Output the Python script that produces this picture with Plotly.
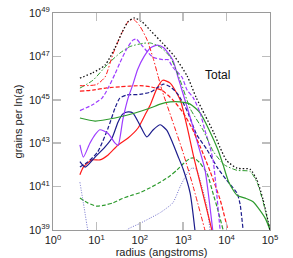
import plotly.graph_objects as go

# log10(radius / angstrom) and log10(grains per ln a)
total_x = [0.62, 0.92, 1.2, 1.43, 1.59, 1.73, 1.87, 2.05, 2.24, 2.53, 2.8, 3.09, 3.3, 3.5, 3.7, 3.85, 4.0, 4.24, 4.54, 4.7, 4.84, 5.0]
total_y = [46.0, 46.25, 46.6, 47.4, 48.1, 48.6, 48.77, 48.6, 48.2, 47.6, 47.0, 46.1, 45.1, 44.3, 43.5, 42.8, 42.2, 41.85, 41.8, 41.3, 40.4, 39.0]

red_dd_x = [0.62, 1.0, 1.2, 1.38, 1.59, 1.75, 1.86, 2.0, 2.16, 2.31, 2.42, 2.51, 2.74, 3.0, 3.23, 3.5]
red_dd_y = [45.65, 45.7, 46.05, 47.1, 48.1, 48.65, 48.7, 48.4, 47.8, 46.9, 46.1, 45.45, 44.1, 42.55, 41.0, 39.0]

red_dash_x = [0.62, 0.92, 1.24, 1.54, 2.0, 2.24, 2.5, 2.76, 3.0, 3.2, 3.4, 3.62, 3.85, 4.03]
red_dash_y = [45.4, 45.45, 45.55, 45.6, 45.65, 45.6, 45.45, 45.0, 44.4, 43.7, 42.8, 41.7, 40.4, 39.0]

red_solid_x = [0.62, 0.7, 0.9, 1.08, 1.27, 1.5, 1.73, 1.96, 2.12, 2.24, 2.4, 2.53, 2.7, 2.93, 3.09, 3.25, 3.45, 3.66]
red_solid_y = [41.55, 41.9, 42.23, 42.23, 42.46, 42.92, 43.24, 43.7, 44.3, 44.76, 45.55, 45.9, 45.77, 45.0, 43.75, 42.3, 40.7, 39.0]

green_dd_x = [0.62, 0.92, 1.24, 1.54, 1.77, 2.07, 2.24, 2.47, 2.7, 2.93, 3.16, 3.46, 3.7, 3.95, 4.24, 4.54, 4.7, 4.84, 5.0]
green_dd_y = [45.54, 45.9, 46.6, 47.15, 47.45, 47.6, 47.62, 47.43, 46.97, 45.9, 44.6, 43.6, 42.6, 42.0, 41.75, 41.7, 41.2, 40.3, 39.0]

green_solid_x = [0.62, 0.97, 1.43, 1.89, 2.24, 2.47, 2.7, 2.93, 3.16, 3.39, 3.6, 3.8, 3.92, 4.05, 4.24, 4.45, 4.61, 4.77, 4.9, 5.0]
green_solid_y = [44.16, 44.02, 44.16, 44.39, 44.62, 44.8, 44.9, 44.9, 44.8, 44.4, 43.6, 42.7, 42.0, 41.2, 40.6, 40.45, 40.3, 39.9, 39.5, 39.0]

green_dash_x = [0.62, 0.8, 1.0, 1.2, 1.38, 1.6, 1.84, 2.0, 2.24, 2.47, 2.7, 2.86, 3.0, 3.16, 3.25, 3.38, 3.55, 3.7, 3.78, 3.92]
green_dash_y = [40.47, 40.25, 40.1, 40.15, 40.25, 40.45, 40.62, 40.72, 40.95, 41.2, 41.5, 41.77, 42.05, 42.3, 42.32, 42.1, 41.6, 40.6, 40.06, 39.0]

purple_dash_x = [0.62, 0.9, 1.13, 1.27, 1.43, 1.54, 1.7, 1.84, 1.92, 2.05, 2.3, 2.53, 2.65, 2.76, 2.97, 3.09, 3.23, 3.39, 3.5, 3.62, 3.69, 3.85]
purple_dash_y = [44.5, 44.76, 45.08, 45.54, 46.2, 46.7, 47.35, 47.75, 47.8, 47.5, 46.97, 46.85, 46.85, 46.5, 46.05, 45.45, 45.1, 44.4, 43.6, 42.8, 42.2, 39.0]

purple_solid_x = [0.62, 0.7, 0.85, 0.97, 1.08, 1.27, 1.43, 1.5, 1.61, 1.73, 1.84, 1.95, 2.1, 2.25, 2.4, 2.55, 2.76, 2.88, 2.97, 3.16, 3.39, 3.5, 3.68]
purple_solid_y = [42.92, 42.36, 43.0, 43.4, 43.62, 43.45, 43.0, 42.9, 44.1, 45.08, 45.7, 46.4, 47.0, 47.4, 47.52, 47.4, 46.83, 46.05, 45.45, 44.2, 42.6, 41.8, 39.0]

blue_solid_x = [0.62, 0.74, 0.97, 1.2, 1.36, 1.5, 1.61, 1.73, 1.84, 2.0, 2.16, 2.3, 2.47, 2.62, 2.76, 2.9, 3.0, 3.16, 3.27]
blue_solid_y = [42.15, 41.9, 42.36, 42.83, 43.24, 43.98, 44.35, 44.44, 44.39, 43.84, 43.29, 43.6, 43.85, 43.6, 43.0, 42.3, 41.8, 40.7, 39.0]

blue_dash_x = [0.62, 0.8, 1.03, 1.27, 1.43, 1.54, 1.7, 2.0, 2.24, 2.4, 2.55, 2.7, 2.86, 3.0, 3.11, 3.31, 3.55, 3.78, 4.0, 4.24, 4.31, 4.38]
blue_dash_y = [41.9, 42.13, 42.6, 43.7, 44.62, 45.08, 45.22, 45.25, 45.35, 45.55, 45.72, 45.6, 45.3, 44.85, 44.4, 43.4, 42.7, 41.9, 41.3, 40.7, 40.2, 39.0]

blue_dot_x = [0.62, 0.72, 0.82, 1.0, 1.5, 1.7, 2.0, 2.24, 2.47, 2.76, 2.93, 3.09, 3.2, 3.3, 3.43, 3.55, 3.62, 3.7]
blue_dot_y = [41.2, 40.0, 38.8, 37.5, 38.3, 39.0, 39.3, 39.55, 39.8, 40.25, 41.0, 41.6, 41.85, 41.8, 41.0, 40.06, 39.0, 38.4]

x_tick_exp = [0, 1, 2, 3, 4, 5]
y_tick_exp = [39, 41, 43, 45, 47, 49]

RED = "#ff1a1a"
GREEN = "#2e9b2e"
PURPLE = "#9d3cff"
NAVY = "#1c1c8c"
LIGHTBLUE = "#7070cc"
BLACK = "#111111"

DASH = "4px,2px"
DOT = "1.5px,2px"
DASHDOT = "5px,2px,1.5px,2px"

series = [
    (green_dash_x, green_dash_y, GREEN, DASH, 1.2),
    (blue_dot_x, blue_dot_y, LIGHTBLUE, "1px,1.5px", 1.0),
    (red_solid_x, red_solid_y, RED, "solid", 1.2),
    (blue_solid_x, blue_solid_y, NAVY, "solid", 1.2),
    (blue_dash_x, blue_dash_y, NAVY, DASH, 1.2),
    (purple_solid_x, purple_solid_y, PURPLE, "solid", 1.2),
    (green_solid_x, green_solid_y, GREEN, "solid", 1.2),
    (red_dash_x, red_dash_y, RED, DASH, 1.2),
    (purple_dash_x, purple_dash_y, PURPLE, DASH, 1.2),
    (green_dd_x, green_dd_y, GREEN, DASHDOT, 1.0),
    (red_dd_x, red_dd_y, RED, DASHDOT, 1.0),
    (total_x, total_y, BLACK, DOT, 1.3),
]

fig = go.Figure()
for xs, ys, col, dash, w in series:
    fig.add_trace(go.Scatter(
        x=[10.0 ** v for v in xs], y=[10.0 ** v for v in ys], mode="lines",
        line=dict(color=col, dash=dash, width=w, shape="spline", smoothing=0.6),
        showlegend=False, hoverinfo="skip"))

fig.add_annotation(x=3.8, y=46.14, xref="x", yref="y", text="Total", showarrow=False,
                   font=dict(size=12, color="#111"))

axis_common = dict(type="log", showline=True, linecolor="#9a9a9a", linewidth=1, mirror="ticks",
                   ticks="inside", ticklen=8, tickwidth=1.5, tickcolor="#bdbdbd",
                   showgrid=False, zeroline=False, automargin=False,
                   tickfont=dict(size=11, color="#222"))

fig.update_layout(
    width=293, height=258,
    margin=dict(l=53, r=23, t=13, b=28),
    paper_bgcolor="white", plot_bgcolor="white",
    font=dict(family="Liberation Sans, Arial, sans-serif", color="#222"),
    xaxis=dict(range=[0, 5], tickmode="array",
               tickvals=[10.0 ** e for e in x_tick_exp],
               ticktext=["10<sup>%d</sup>" % e for e in x_tick_exp],
               title=dict(text="radius (angstroms)", font=dict(size=11), standoff=2), **axis_common),
    yaxis=dict(range=[39, 49], tickmode="array",
               tickvals=[10.0 ** e for e in y_tick_exp],
               ticktext=["10<sup>%d</sup>" % e for e in y_tick_exp],
               title=dict(text="grains per ln(a)", font=dict(size=11), standoff=4), **axis_common),
)

fig.write_html("out.html", config={"displayModeBar": False, "staticPlot": True},
               post_script="document.body.style.margin='0px';")
